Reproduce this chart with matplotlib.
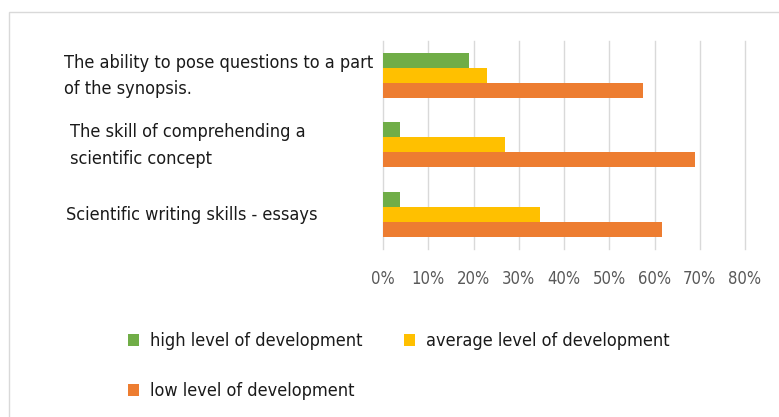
import matplotlib
matplotlib.use("Agg")
import matplotlib.pyplot as plt
import matplotlib.transforms as mtransforms
from matplotlib.patches import Rectangle
import numpy as np

plt.rcParams['font.family'] = ['DejaVu Sans']
plt.rcParams['font.stretch'] = 'condensed'

# data (fractions of 1)
categories = ["The ability to pose questions to a part\nof the synopsis.",
              "The skill of comprehending a\nscientific concept",
              "Scientific writing skills - essays"]
series_names = ["high level of development",
                "average level of development",
                "low level of development"]
high = [0.19, 0.037, 0.037]
average = [0.23, 0.27, 0.346]
low = [0.575, 0.69, 0.616]
xticks = [0, 0.1, 0.2, 0.3, 0.4, 0.5, 0.6, 0.7, 0.8]
xtick_labels = ["0%", "10%", "20%", "30%", "40%", "50%", "60%", "70%", "80%"]

colors = ["#70AD47", "#FFC000", "#ED7D31"]

fig = plt.figure(figsize=(7.79, 4.17), dpi=100)
# thin frame around the chart area
fig.patches.append(Rectangle((9 / 779, -0.1), 1.2, 1 - 12 / 417 + 0.1,
                             transform=fig.transFigure, fill=False,
                             edgecolor="#d9d9d9", linewidth=1.0))

ax = fig.add_axes([383 / 779, 1 - 249 / 417, 362 / 779, 208.5 / 417])

y = np.arange(len(categories))
h = 0.214
bars = []
for i, (vals, c) in enumerate(zip([high, average, low], colors)):
    b = ax.barh(y + (i - 1) * h, vals, height=h, color=c, label=series_names[i],
                zorder=3)
    bars.append(b)

ax.set_ylim(2.5, -0.5)
ax.set_xlim(0, 0.8)
ax.set_xticks(xticks)
ax.set_xticklabels(xtick_labels, color="#595959", fontsize=12)
ax.tick_params(axis="x", length=0, pad=15)
ax.set_yticks([])
for xv in xticks:
    ax.axvline(xv, color="#d9d9d9", linewidth=1.0, zorder=0, clip_on=False)
for s in ax.spines.values():
    s.set_visible(False)

trans = mtransforms.blended_transform_factory(ax.transAxes, ax.transData)
label_x = [64, 70, 66]
for yi, (lab, lx) in enumerate(zip(categories, label_x)):
    ax.text((lx - 383) / 362, yi + 0.01, lab, transform=trans, ha="left",
            va="center", fontsize=13, color="#1a1a1a", linespacing=1.6)

handles = [bars[0], bars[2], bars[1]]
labels = [series_names[0], series_names[2], series_names[1]]
fig.legend(handles, labels, ncol=2, loc="upper left",
           bbox_to_anchor=(112 / 779, 1 - 316 / 417), frameon=False,
           fontsize=13, handlelength=0.6, handleheight=0.6,
           handletextpad=0.6, columnspacing=2.3, labelspacing=1.78,
           labelcolor="#1a1a1a")

fig.savefig("out.png", dpi=100, facecolor="white")
